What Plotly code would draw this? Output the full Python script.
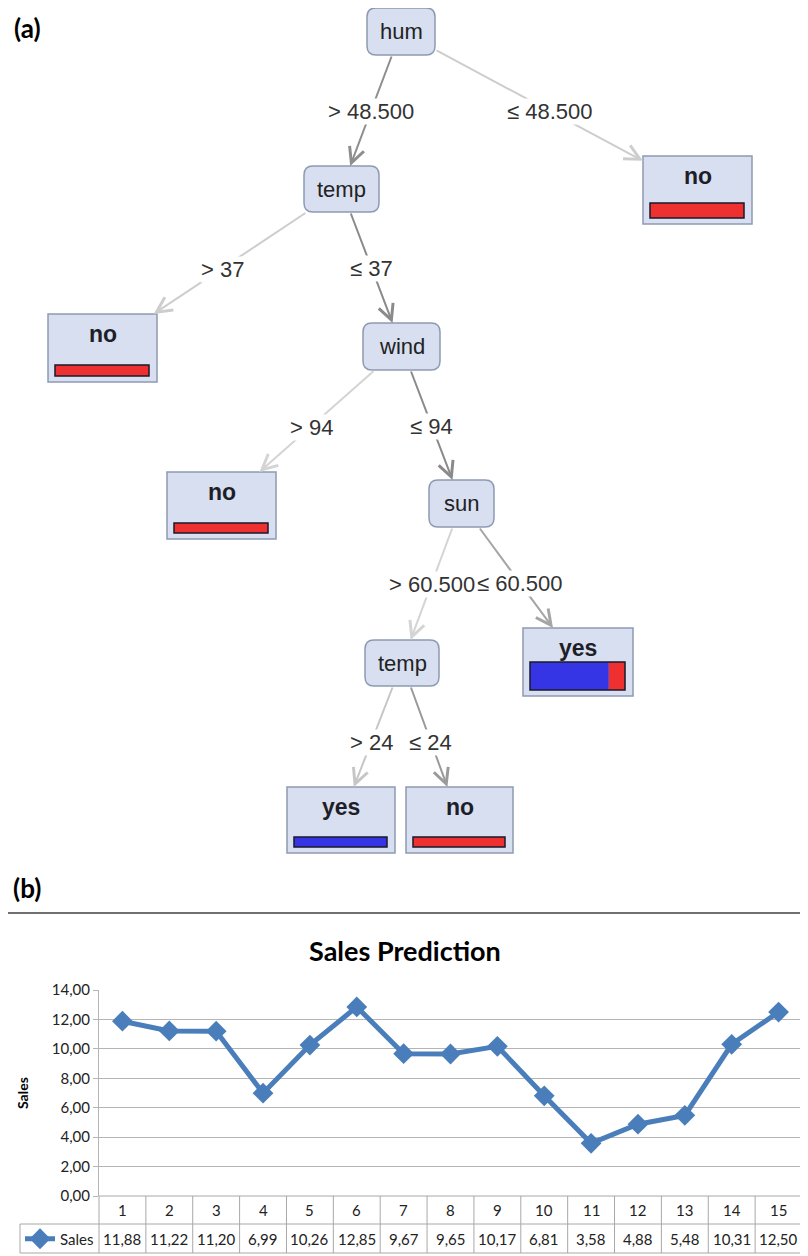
import math
import plotly.graph_objects as go

W, H = 808, 1256
# the page body keeps its default 8 px margin, so the figure is drawn 8 px smaller
OFF = 8
FIG_W, FIG_H = W - OFF, H - OFF

# ---------------- (a) decision tree ----------------
NODE_IDS = ["hum", "temp_a", "no_a", "no_b", "wind", "no_c", "sun", "temp_b", "yes_a", "yes_b", "no_d"]
NODE_TEXT = ["hum", "temp", "no", "no", "wind", "no", "sun", "temp", "yes", "yes", "no"]
# share of "yes" in each leaf (blue part of the bar)
LEAF_YES_SHARE = {"no_a": 0.0, "no_b": 0.0, "no_c": 0.0, "yes_a": 0.83, "yes_b": 1.0, "no_d": 0.0}

EDGE_FROM = ["hum", "hum", "temp_a", "temp_a", "wind", "wind", "sun", "sun", "temp_b", "temp_b"]
EDGE_TO = ["temp_a", "no_a", "no_b", "wind", "no_c", "sun", "temp_b", "yes_a", "yes_b", "no_d"]
EDGE_TEXT = ["> 48.500", "≤ 48.500", "> 37", "≤ 37", "> 94", "≤ 94", "> 60.500", "≤ 60.500", "> 24", "≤ 24"]

# ---------------- (b) sales prediction ----------------
PERIODS = list(range(1, 16))
SALES = [11.88, 11.22, 11.20, 6.99, 10.26, 12.85, 9.67, 9.65, 10.17, 6.81, 3.58, 4.88, 5.48, 10.31, 12.50]
Y_TICKS = [0, 2, 4, 6, 8, 10, 12, 14]

# layout of the tree (page pixels): centre x, centre y, width, height
NODE_BOX = {
    "hum": (401, 31.5, 68, 47),
    "temp_a": (341.5, 189, 75, 46),
    "no_a": (697.5, 190, 109, 68),
    "no_b": (102.5, 348, 109, 68),
    "wind": (401.5, 346.5, 77, 47),
    "no_c": (221.5, 505.5, 109, 67),
    "sun": (461.5, 503.5, 65, 47),
    "temp_b": (402, 663, 74, 46),
    "yes_a": (578, 662, 110, 68),
    "yes_b": (341, 820, 108, 66),
    "no_d": (459.5, 820, 107, 66),
}
BAR_H = {"no_a": 15, "no_b": 11, "no_c": 10, "yes_a": 28, "yes_b": 10, "no_d": 10}
EDGE_COLOR = ["#8e8e8e", "#cdcdcd", "#cdcdcd", "#8a8a8a", "#d4d4d4", "#8a8a8a",
              "#d4d4d4", "#a5a5a5", "#c6c6c6", "#9a9a9a"]

TREE_H = 880
NODE_FILL = "#d7dff0"
NODE_LINE = "#8e9ab2"
RED = "#ee3030"
BLUE = "#3535e6"
BLUE_LINE = "#4a7ebb"
GRID = "#b5b5b5"
TABLE_LINE = "#a8a8a8"


def px(x):
    return (x - OFF) / FIG_W


def py(y):
    return 1 - (y - OFF) / FIG_H


def rounded(x0, y0, x1, y1, r):
    return (f"M{x0 + r},{y0} L{x1 - r},{y0} Q{x1},{y0} {x1},{y0 + r} "
            f"L{x1},{y1 - r} Q{x1},{y1} {x1 - r},{y1} L{x0 + r},{y1} "
            f"Q{x0},{y1} {x0},{y1 - r} L{x0},{y0 + r} Q{x0},{y0} {x0 + r},{y0} Z")


def border_point(box, tx, ty):
    cx, cy, w, h = box
    dx, dy = tx - cx, ty - cy
    t = min((w / 2) / abs(dx) if dx else math.inf, (h / 2) / abs(dy) if dy else math.inf)
    return cx + dx * t, cy + dy * t


def label(x, y, text, size, family="Lato", color="black", **kw):
    return dict(xref="paper", yref="paper", x=x, y=y, text=text, showarrow=False,
                xanchor="center", yanchor="middle",
                font=dict(size=size, color=color, family=family), **kw)


fig = go.Figure()
shapes = []
annotations = []

# tree nodes
for nid, txt in zip(NODE_IDS, NODE_TEXT):
    cx, cy, w, h = NODE_BOX[nid]
    x0, x1, y0, y1 = cx - w / 2, cx + w / 2, cy - h / 2, cy + h / 2
    if nid in LEAF_YES_SHARE:
        shapes.append(dict(type="rect", xref="x2", yref="y2", x0=x0, x1=x1, y0=y0, y1=y1,
                           fillcolor=NODE_FILL, line=dict(color=NODE_LINE, width=1.5)))
        bx0, bx1 = x0 + 7, x1 - 8
        by1 = y1 - 6
        by0 = by1 - BAR_H[nid]
        split = bx0 + (bx1 - bx0) * LEAF_YES_SHARE[nid]
        if split > bx0:
            shapes.append(dict(type="rect", xref="x2", yref="y2", x0=bx0, x1=split, y0=by0, y1=by1,
                               fillcolor=BLUE, line=dict(width=0)))
        if split < bx1:
            shapes.append(dict(type="rect", xref="x2", yref="y2", x0=split, x1=bx1, y0=by0, y1=by1,
                               fillcolor=RED, line=dict(width=0)))
        shapes.append(dict(type="rect", xref="x2", yref="y2", x0=bx0, x1=bx1, y0=by0, y1=by1,
                           fillcolor="rgba(0,0,0,0)", line=dict(color="#1a1a2a", width=1.5)))
        annotations.append(dict(xref="x2", yref="y2", x=cx, y=y0 + 20, text=f"<b>{txt}</b>",
                                showarrow=False, font=dict(size=23, color="#1e1e28",
                                                           family="Liberation Sans, Arial")))
    else:
        shapes.append(dict(type="path", xref="x2", yref="y2", path=rounded(x0, y0, x1, y1, 9),
                           fillcolor=NODE_FILL, line=dict(color=NODE_LINE, width=1.5)))
        annotations.append(dict(xref="x2", yref="y2", x=cx, y=cy, text=txt, showarrow=False,
                                font=dict(size=22, color="#222", family="Liberation Sans, Arial")))

# tree edges (arrows first, labels on top)
for src, dst, col in zip(EDGE_FROM, EDGE_TO, EDGE_COLOR):
    pb, cb = NODE_BOX[src], NODE_BOX[dst]
    sx, sy = border_point(pb, cb[0], cb[1])
    ex, ey = border_point(cb, pb[0], pb[1])
    annotations.append(dict(xref="x2", yref="y2", axref="x2", ayref="y2", x=ex, y=ey, ax=sx, ay=sy,
                            text="", showarrow=True, arrowhead=5, arrowsize=1.5, arrowwidth=2,
                            arrowcolor=col, standoff=0, startstandoff=0))
for src, dst, txt in zip(EDGE_FROM, EDGE_TO, EDGE_TEXT):
    pb, cb = NODE_BOX[src], NODE_BOX[dst]
    annotations.append(dict(xref="x2", yref="y2", x=(pb[0] + cb[0]) / 2, y=(pb[1] + cb[1]) / 2 + 1,
                            text=txt, showarrow=False, bgcolor="white", borderpad=0,
                            font=dict(size=22, color="#333", family="Liberation Sans, Arial")))

# panel labels and separator
annotations.append(label(px(27), py(28), "<b>(a)</b>", 26))
annotations.append(label(px(27), py(888), "<b>(b)</b>", 26))
shapes.append(dict(type="line", xref="paper", yref="paper", x0=0, x1=1, y0=py(913), y1=py(913),
                   line=dict(color="#707070", width=2)))

# ---------------- line chart ----------------
fig.add_trace(go.Scatter(
    x=PERIODS, y=SALES, mode="lines+markers", name="Sales",
    line=dict(color=BLUE_LINE, width=5),
    marker=dict(symbol="diamond", size=16, color=BLUE_LINE),
    cliponaxis=False, xaxis="x", yaxis="y",
))

annotations.append(label(px(405), py(950), "<b>Sales Prediction</b>", 27))
annotations.append(label(px(22), py(1093), "<b>Sales</b>", 14, textangle=-90))

# data table under the chart
T_TOP, T_MID, T_BOT, T_LEFT, P_LEFT, P_RIGHT = 1196, 1224, 1253, 20, 99, 802
shapes.append(dict(type="line", xref="paper", yref="paper", x0=px(P_LEFT), x1=px(P_RIGHT),
                   y0=py(T_TOP), y1=py(T_TOP), line=dict(color=TABLE_LINE, width=1)))
for yy in (T_MID, T_BOT):
    shapes.append(dict(type="line", xref="paper", yref="paper", x0=px(T_LEFT), x1=px(P_RIGHT),
                       y0=py(yy), y1=py(yy), line=dict(color=TABLE_LINE, width=1)))
shapes.append(dict(type="line", xref="paper", yref="paper", x0=px(T_LEFT), x1=px(T_LEFT),
                   y0=py(T_MID), y1=py(T_BOT), line=dict(color=TABLE_LINE, width=1)))
for xx in (P_LEFT, P_RIGHT):
    shapes.append(dict(type="line", xref="paper", yref="paper", x0=px(xx), x1=px(xx),
                       y0=py(T_TOP), y1=py(T_BOT), line=dict(color=TABLE_LINE, width=1)))
for p in PERIODS[:-1]:
    shapes.append(dict(type="line", xref="x", yref="paper", x0=p + 0.5, x1=p + 0.5,
                       y0=py(T_TOP), y1=py(T_BOT), line=dict(color=TABLE_LINE, width=1)))
for p, v in zip(PERIODS, SALES):
    annotations.append(dict(xref="x", yref="paper", x=p, y=py(1210), text=str(p), showarrow=False,
                            xanchor="center", yanchor="middle",
                            font=dict(size=15, color="#222", family="Lato")))
    annotations.append(dict(xref="x", yref="paper", x=p, y=py(1239), text=f"{v:.2f}".replace(".", ","),
                            showarrow=False, xanchor="center", yanchor="middle",
                            font=dict(size=15, color="#222", family="Lato")))

fig.update_layout(
    width=FIG_W, height=FIG_H,
    margin=dict(l=0, r=0, t=0, b=0, autoexpand=False),
    paper_bgcolor="white", plot_bgcolor="white",
    separators=",.",
    showlegend=True,
    legend=dict(x=px(20), y=py(1239), xanchor="left", yanchor="middle", bgcolor="rgba(0,0,0,0)",
                font=dict(size=15, color="#222", family="Lato"), itemwidth=30),
    xaxis=dict(domain=[px(P_LEFT), px(P_RIGHT)], range=[0.5, 15.5], showgrid=False, zeroline=False,
               showticklabels=False, ticks="", showline=False, anchor="y"),
    yaxis=dict(domain=[py(T_TOP), py(990)], range=[0, 14], tickvals=Y_TICKS, tickformat=".2f",
               showgrid=True, gridcolor=GRID, zeroline=False, showline=True, linecolor=GRID,
               ticks="outside", ticklen=5, tickcolor=GRID, anchor="x",
               tickfont=dict(size=15, color="#222", family="Lato")),
    xaxis2=dict(domain=[0, 1], range=[OFF, W], visible=False, anchor="y2"),
    yaxis2=dict(domain=[py(TREE_H), 1], range=[TREE_H, OFF], visible=False, anchor="x2"),
    shapes=shapes,
    annotations=annotations,
)

fig.write_html("out.html")
